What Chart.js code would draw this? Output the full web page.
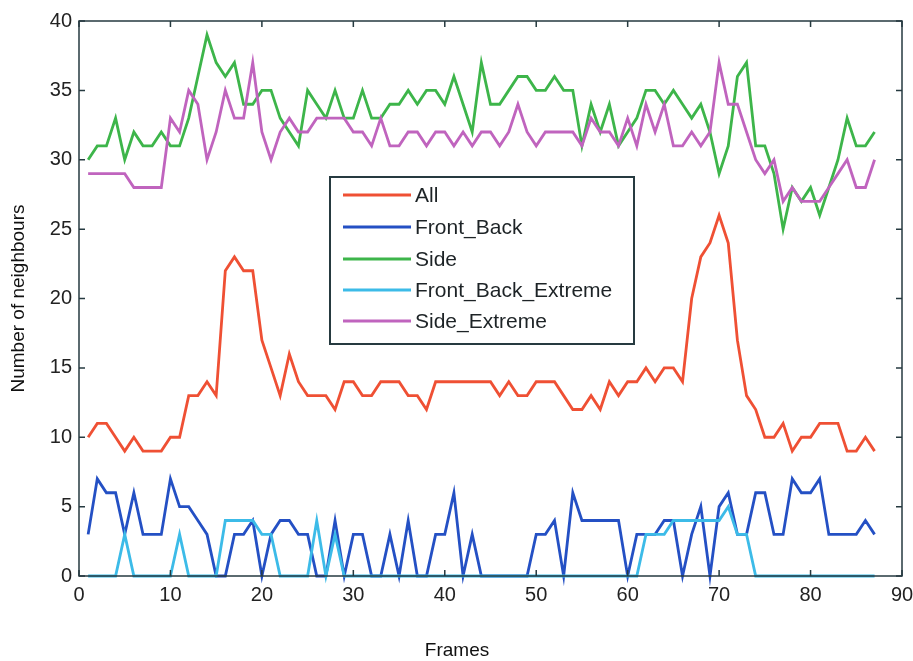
<!DOCTYPE html>
<html>
<head>
<meta charset="utf-8">
<script src="https://cdn.jsdelivr.net/npm/chart.js@4/dist/chart.umd.min.js"></script>
<style>
  html, body { margin: 0; padding: 0; background: #fff; }
  #wrap { width: 913px; height: 661px; }
</style>
</head>
<body>
<div id="wrap"><canvas id="chart" width="913" height="661"></canvas></div>
<script>
// frames 1..87 (x position of each sample)
const frames = [];
for (let i = 1; i <= 87; i++) frames.push(i);

// series
const allVals = [10,11,11,10,9,10,9,9,9,10, 10,13,13,14,13,22,23,22,22,17, 15,13,16,14,13,13,13,12,14,14,
  13,13,14,14,14,13,13,12,14,14, 14,14,14,14,14,13,14,13,13,14, 14,14,13,12,12,13,12,14,13,14,
  14,15,14,15,15,14,20,23,24,26, 24,17,13,12,10,10,11,9,10,10, 11,11,11,9,9,10,9];
const frontBack = [3,7,6,6,3,6,3,3,3,7, 5,5,4,3,0,0,3,3,4,0, 3,4,4,3,3,0,0,4,0,3,
  3,0,0,3,0,4,0,0,3,3, 6,0,3,0,0,0,0,0,0,3, 3,4,0,6,4,4,4,4,4,0,
  3,3,3,4,4,0,3,5,0,5, 6,3,3,6,6,3,3,7,6,6, 7,3,3,3,3,4,3];
const side = [30,31,31,33,30,32,31,31,32,31, 31,33,36,39,37,36,37,34,34,35, 35,33,32,31,35,34,33,35,33,33,
  35,33,33,34,34,35,34,35,35,34, 36,34,32,37,34,34,35,36,36,35, 35,36,35,35,31,34,32,34,31,32,
  33,35,35,34,35,34,33,34,32,29, 31,36,37,31,31,29,25,28,27,28, 26,28,30,33,31,31,32];
const frontBackExtreme = [0,0,0,0,3,0,0,0,0,0, 3,0,0,0,0,4,4,4,4,3, 3,0,0,0,0,4,0,3,0,0,
  0,0,0,0,0,0,0,0,0,0, 0,0,0,0,0,0,0,0,0,0, 0,0,0,0,0,0,0,0,0,0,
  0,3,3,3,4,4,4,4,4,4, 5,3,3,0,0,0,0,0,0,0, 0,0,0,0,0,0,0];
const sideExtreme = [29,29,29,29,29,28,28,28,28,33, 32,35,34,30,32,35,33,33,37,32, 30,32,33,32,32,33,33,33,33,32,
  32,31,33,31,31,32,32,31,32,32, 31,32,31,32,32,31,32,34,32,31, 32,32,32,32,31,33,32,32,31,33,
  31,34,32,34,31,31,32,31,32,37, 34,34,32,30,29,30,27,28,27,27, 27,28,29,30,28,28,30];

const seriesNames = ['All', 'Front_Back', 'Side', 'Front_Back_Extreme', 'Side_Extreme'];
const seriesData = [allVals, frontBack, side, frontBackExtreme, sideExtreme];
const seriesColors = ['#ef5034', '#2450c4', '#3db54a', '#3cbbe8', '#c064be'];

const xTicks = [0, 10, 20, 30, 40, 50, 60, 70, 80, 90];
const yTicks = [0, 5, 10, 15, 20, 25, 30, 35, 40];

const FONT = 'Liberation Sans, Arial, sans-serif';
const FRAME = '#263a40';

// build datasets, later series drawn on top
const datasets = seriesNames.map((name, i) => ({
  label: name,
  data: seriesData[i].map((v, k) => ({ x: frames[k], y: v })),
  borderColor: seriesColors[i],
  backgroundColor: seriesColors[i],
  borderWidth: 2.8,
  pointRadius: 0,
  tension: 0,
  clip: false,
  order: seriesNames.length - i
}));

// box round the axes with inward ticks, like the original figure
const boxPlugin = {
  id: 'box',
  afterDraw(chart) {
    const { ctx, chartArea: a, scales } = chart;
    ctx.save();
    ctx.strokeStyle = FRAME;
    ctx.lineWidth = 1.5;
    ctx.strokeRect(a.left, a.top, a.right - a.left, a.bottom - a.top);
    ctx.beginPath();
    xTicks.forEach(t => {
      const px = scales.x.getPixelForValue(t);
      ctx.moveTo(px, a.bottom); ctx.lineTo(px, a.bottom - 6);
      ctx.moveTo(px, a.top); ctx.lineTo(px, a.top + 6);
    });
    yTicks.forEach(t => {
      const py = scales.y.getPixelForValue(t);
      ctx.moveTo(a.left, py); ctx.lineTo(a.left + 6, py);
      ctx.moveTo(a.right, py); ctx.lineTo(a.right - 6, py);
    });
    ctx.stroke();
    // x axis title sits a little left of the plot centre in the original
    ctx.fillStyle = '#111';
    ctx.font = '19px ' + FONT;
    ctx.textAlign = 'center';
    ctx.textBaseline = 'middle';
    ctx.fillText('Frames', 457, 651);
    ctx.restore();
  }
};

// legend box inside the plot
const legendPlugin = {
  id: 'boxLegend',
  afterDraw(chart) {
    const { ctx } = chart;
    const lx = 330, ly = 177, w = 304, h = 167;
    ctx.save();
    ctx.fillStyle = '#fff';
    ctx.fillRect(lx, ly, w, h);
    ctx.strokeStyle = FRAME;
    ctx.lineWidth = 2;
    ctx.strokeRect(lx, ly, w, h);
    ctx.font = '21px ' + FONT;
    ctx.textBaseline = 'middle';
    ctx.textAlign = 'left';
    const rows = [195, 227, 259, 290, 321];
    chart.data.datasets.forEach((ds, i) => {
      const y = rows[i];
      ctx.strokeStyle = ds.borderColor;
      ctx.lineWidth = 3;
      ctx.beginPath();
      ctx.moveTo(343, y); ctx.lineTo(411, y);
      ctx.stroke();
      ctx.fillStyle = '#1d2326';
      ctx.fillText(ds.label, 415, y + 1);
    });
    ctx.restore();
  }
};

new Chart(document.getElementById('chart'), {
  type: 'line',
  data: { datasets },
  options: {
    responsive: false,
    animation: false,
    layout: { padding: { left: 0, top: 21, right: 11, bottom: 0 } },
    plugins: {
      legend: { display: false },
      tooltip: { enabled: false }
    },
    scales: {
      x: {
        type: 'linear',
        min: 0, max: 90,
        afterFit(s) { s.height = 85; s.paddingLeft = 0; s.paddingRight = 0; },
        afterBuildTicks(s) { s.ticks = xTicks.map(v => ({ value: v })); },
        grid: { display: false, drawTicks: false },
        border: { display: false },
        ticks: { color: '#222', font: { family: FONT, size: 20 }, padding: 7, maxRotation: 0 },
        title: { display: false }
      },
      y: {
        min: 0, max: 40,
        afterFit(s) { s.width = 79; s.paddingTop = 0; s.paddingBottom = 0; },
        afterBuildTicks(s) { s.ticks = yTicks.map(v => ({ value: v })); },
        grid: { display: false, drawTicks: false },
        border: { display: false },
        ticks: { color: '#222', font: { family: FONT, size: 20 }, padding: 7 },
        title: { display: true, text: 'Number of neighbours', color: '#111', font: { family: FONT, size: 19 }, padding: { top: 7, bottom: 0 } }
      }
    }
  },
  plugins: [boxPlugin, legendPlugin]
});
</script>
</body>
</html>
